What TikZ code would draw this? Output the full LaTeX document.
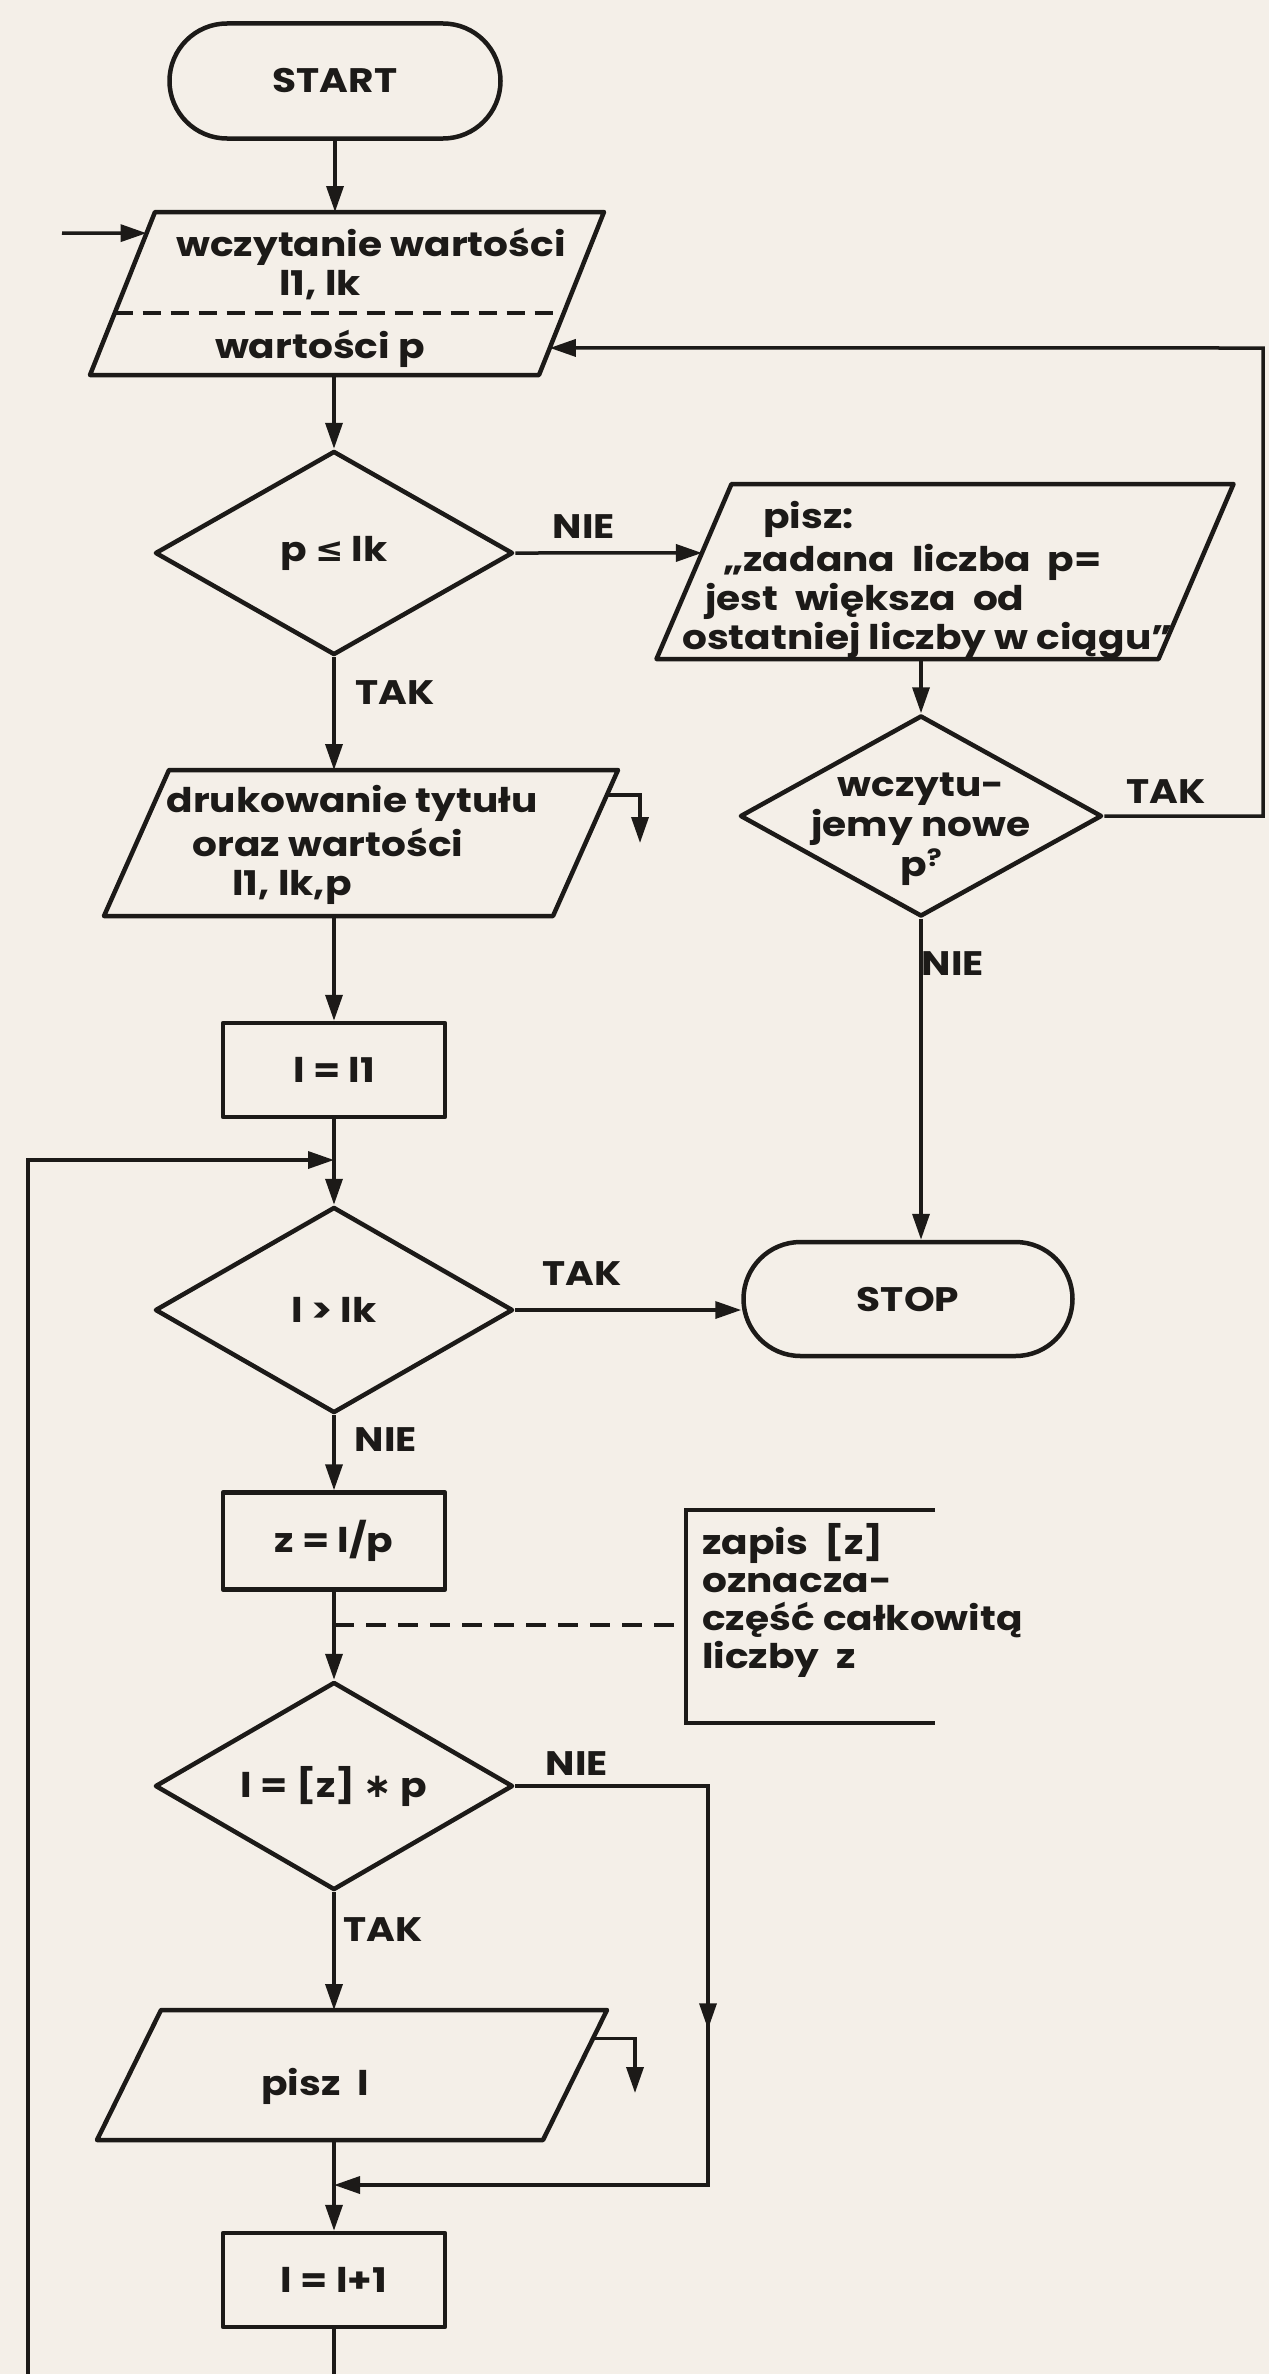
\documentclass[tikz,border=0pt]{standalone}
\usepackage{fontspec}
\setmainfont{Poppins}[FakeStretch=1.15]
\newfontfamily\symfnt{DejaVu Sans}
\usetikzlibrary{shapes.geometric,shapes.misc,arrows.meta,calc,decorations.markings}
\definecolor{paper}{HTML}{F4EFE8}
\definecolor{ink}{HTML}{1C1A18}
\newcommand{\flowfont}{\bfseries\fontsize{34}{40}\selectfont}
\newcommand{\pgram}[6]{%
  \node[pbox, minimum width=#4pt, minimum height=#5pt] (#1) at (#2,#3) {};
  \coordinate (#1-tl) at ($(#2,#3)+(-#4/2+#6/2,-#5/2)$);
  \coordinate (#1-tr) at ($(#2,#3)+(#4/2+#6/2,-#5/2)$);
  \coordinate (#1-bl) at ($(#2,#3)+(-#4/2-#6/2,#5/2)$);
  \coordinate (#1-br) at ($(#2,#3)+(#4/2-#6/2,#5/2)$);
  \draw[shapeline] (#1-bl) -- (#1-br) -- (#1-tr) -- (#1-tl) -- cycle;
}
\tikzset{
  shapeline/.style={draw=ink, line width=4.5pt, line join=round},
  arrowtip/.tip={Triangle[length=26pt,width=17pt]},
  conn/.style={draw=ink, line width=3.5pt, -arrowtip},
  plainline/.style={draw=ink, line width=3.5pt},
  dashline/.style={draw=ink, line width=3.5pt, dash pattern=on 18pt off 10pt},
  txt/.style={font=\flowfont, text=ink, inner sep=0pt, text height=24pt, text depth=8pt},
  mtxt/.style={font=\flowfont, text=ink, inner sep=0pt},
  term/.style={rounded rectangle, shapeline, inner sep=0pt, font=\flowfont, text=ink},
  decision/.style={diamond, shapeline, aspect=1.75, inner sep=0pt, minimum width=358pt, minimum height=204pt, font=\flowfont, text=ink},
  process/.style={rectangle, shapeline, inner sep=0pt, minimum width=222pt, minimum height=94pt, font=\flowfont, text=ink},
  pbox/.style={rectangle, draw=none, inner sep=0pt, outer sep=0pt},
  midarrow/.style={postaction={decorate}, decoration={markings, mark=at position #1 with {\arrow{arrowtip}}}}
}
\begin{document}
\begin{tikzpicture}[x=1pt, y=-1pt]
\fill[paper] (0,0) rectangle (1269,2374);
\useasboundingbox (0,0) rectangle (1269,2374);

% ---- main column ----
\node[term, minimum width=331pt, minimum height=115pt] (start) at (335,81) {START};

\pgram{p1}{347}{293.5}{449}{163}{65}
\node[txt] (p1a) at (371,248) {wczytanie wartości};
\node[txt] (p1b) at (320,287) {l1, lk};
\node[txt] (p1c) at (320,350) {wartości p};
\draw[dashline] ($(p1-tl)!0.62!(p1-bl)$) -- ($(p1-tr)!0.62!(p1-br)$);

\node[decision] (d1) at (334,553) {p {\symfnt ≤} lk};

\pgram{p2}{361}{843}{449}{146}{65}
\node[txt] (p2a) at (352,804) {drukowanie tytułu};
\node[txt] (p2b) at (328,848) {oraz wartości};
\node[txt] (p2c) at (292,887) {l1, lk,p};

\node[process] (b1) at (334,1070) {l = l1};
\node[decision, minimum height=206pt] (d3) at (334,1310) {l > lk};
\node[process, minimum height=97pt] (b2) at (334,1541) {z = l/p};
\node[decision, minimum height=208pt] (d4) at (334,1786) {l = [z] {\symfnt ∗} p};

\pgram{p4}{352}{2075}{446}{130}{64}
\node[txt] (p4a) at (315,2087) {pisz \ l};

\node[process] (b3) at (334,2280) {l = l+1};

% ---- right column ----
\pgram{p3}{945}{571.5}{502}{175}{75}
\node[txt, anchor=west] (p3a) at (763,520) {pisz:};
\node[txt, anchor=west] (p3b) at (723,563) {„zadana \ liczba \ p=};
\node[txt, anchor=west] (p3c) at (705,602) {jest \ większa \ od};
\node[txt, anchor=west] (p3d) at (682,641) {ostatniej liczby w ciągu”};

\node[decision, minimum width=362pt, minimum height=201pt] (d2) at (921,816) {};
\node[mtxt, align=center] (d2t) at (921,829) {wczytu-\\jemy nowe\\p\raisebox{0.3em}{\fontsize{24}{24}\selectfont ?}};

\node[term, minimum width=329pt, minimum height=114pt] (stop) at (908,1299) {STOP};

% annotation
\node[pbox, minimum width=249pt, minimum height=213pt] (ann) at (810.5,1616.5) {};
\draw[draw=ink, line width=4pt] (ann.north east) -- (ann.north west) -- (ann.south west) -- (ann.south east);
\node[mtxt, anchor=west, align=left, font=\bfseries\fontsize{34}{38}\selectfont] (anntxt) at (702,1600) {zapis \ [z]\\oznacza-\\część całkowitą\\liczby \ z};

% ---- labels ----
\node[txt] (l1) at (584,530) {NIE};
\node[txt] (l2) at (395,696) {TAK};
\node[txt] (l3) at (1166,795) {TAK};
\node[txt] (l4) at (953,967) {NIE};
\node[txt] (l5) at (582,1277) {TAK};
\node[txt] (l6) at (386,1443) {NIE};
\node[txt] (l7) at (577,1767) {NIE};
\node[txt] (l8) at (383,1933) {TAK};

% ---- coordinates for free ends and junctions ----
\coordinate (in1) at (62,233);
\coordinate (j1) at (334,1160);
\coordinate (loopbot) at (28,2380);
\coordinate (mainbot) at (334,2380);
\coordinate (r4) at (708,2185);
\coordinate (m2) at (334,2185);
\coordinate (rtop) at (1263,348);
\coordinate (annpt) at (334,1625);
\coordinate (h2) at (640,843);
\coordinate (h4) at (635,2093);

% ---- connectors ----
\draw[conn] (start.south) -- (start.south |- p1.north);
\draw[conn] (in1) -- ($(p1-tl)!0.13!(p1-bl)$);
\draw[conn] (p1.south -| d1.north) -- (d1.north);
\draw[conn] (d1.east) -- ($(p3-tl)!0.394!(p3-bl)$);
\draw[conn] (d1.south) -- (d1.south |- p2.north);
\draw[conn] ($(p2-tr)!0.17!(p2-br)$) -| (h2);
\draw[conn] (p2.south -| b1.north) -- (b1.north);
\draw[conn] (b1.south) -- (d3.north);
\draw[conn] (loopbot) |- (j1);
\draw[conn] (d3.east) -- (d3.east -| stop.west);
\draw[conn] (d3.south) -- (b2.north);
\draw[conn] (b2.south) -- (d4.north);
\draw[dashline, dash pattern=on 20pt off 12pt] (annpt) -- (annpt -| ann.west);
\draw[conn] (d4.south) -- (d4.south |- p4.north);
\draw[conn, midarrow=436pt] (d4.east) -| (r4) -- (m2);
\draw[conn] ($(p4-tr)!0.22!(p4-br)$) -| (h4);
\draw[conn] (p4.south -| b3.north) -- (b3.north);
\draw[plainline] (b3.south) -- (mainbot);

\draw[conn] (p3.south -| d2.north) -- (d2.north);
\draw[conn] (d2.south) -- (d2.south |- stop.north);
\draw[conn] (d2.east) -| (rtop) -- ($(p1-tr)!0.834!(p1-br)$);
\end{tikzpicture}
\end{document}
